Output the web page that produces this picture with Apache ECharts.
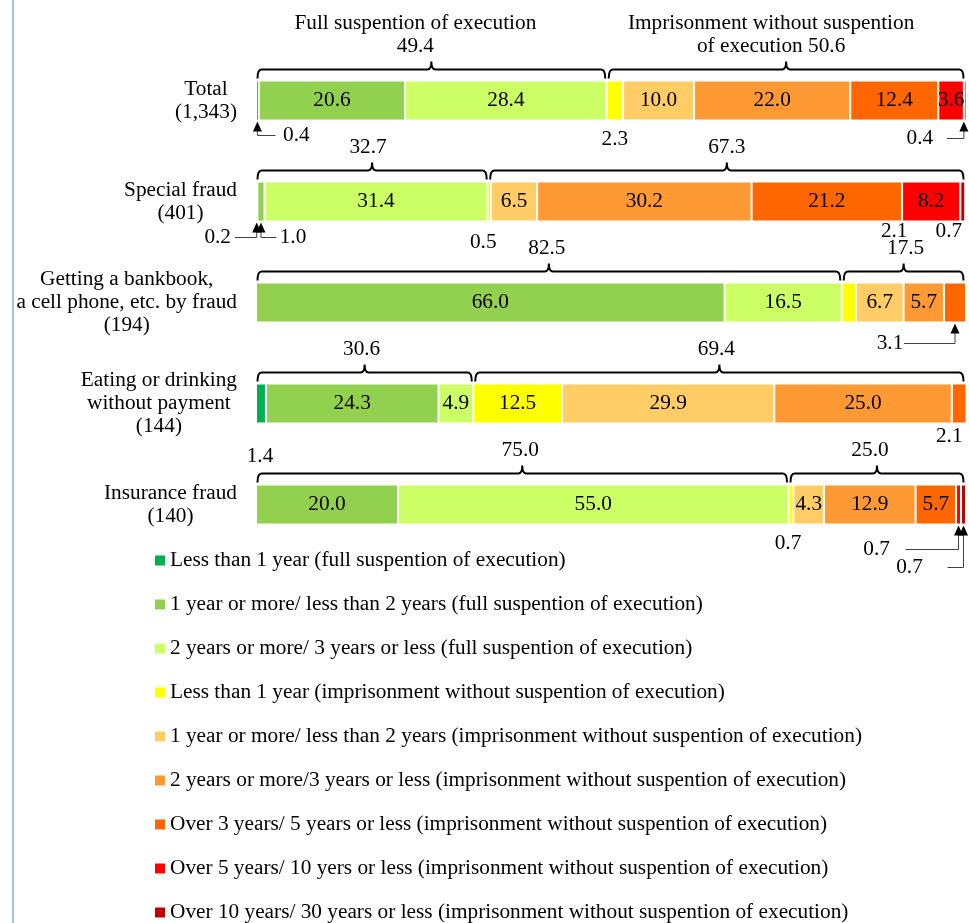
<!DOCTYPE html>
<html><head><meta charset="utf-8">
<script src="https://cdn.jsdelivr.net/npm/echarts@6/dist/echarts.min.js"></script>
<style>html,body{margin:0;padding:0;background:#fff}#c{width:969px;height:923px}</style>
</head><body><div id="c"></div>
<script>
// ---------- data ----------
const categories = [
  'Total\n(1,343)',
  'Special fraud\n(401)',
  'Getting a bankbook,\na cell phone, etc. by fraud\n(194)',
  'Eating or drinking\nwithout payment\n(144)',
  'Insurance fraud\n(140)'
];
const seriesNames = [
  'Less than 1 year (full suspention of execution)',
  '1 year or more/ less than 2 years (full suspention of execution)',
  '2 years or more/ 3 years or less (full suspention of execution)',
  'Less than 1 year (imprisonment without suspention of execution)',
  '1 year or more/ less than 2 years (imprisonment without suspention of execution)',
  '2 years or more/3 years or less (imprisonment without suspention of execution)',
  'Over 3 years/ 5 years or less (imprisonment without suspention of execution)',
  'Over 5 years/ 10 yers or less (imprisonment without suspention of execution)',
  'Over 10 years/ 30 years or less (imprisonment without suspention of execution)'
];
const fullLt1     = [0.4, 0.2, 0,    1.4,  0];
const full1to2    = [20.6, 1.0, 66.0, 24.3, 20.0];
const full2to3    = [28.4, 31.4, 16.5, 4.9, 55.0];
const prisonLt1   = [2.3, 0.5, 2.0, 12.5, 0.7];
const prison1to2  = [10.0, 6.5, 6.7, 29.9, 4.3];
const prison2to3  = [22.0, 30.2, 5.7, 25.0, 12.9];
const prison3to5  = [12.4, 21.2, 3.1, 2.1, 5.7];
const prison5to10 = [3.6, 8.2, 0, 0, 0.7];
const prison10to30= [0.4, 0.7, 0, 0, 0.7];
const fullTotals   = [49.4, 32.7, 82.5, 30.6, 75.0];
const prisonTotals = [50.6, 67.3, 17.5, 69.4, 25.0];
const groupNames = ['Full suspention of execution', 'Imprisonment without suspention\nof execution'];
const strayLabels = ['2.1'];   // extra label printed under the Special fraud bar

const seriesData = [fullLt1, full1to2, full2to3, prisonLt1, prison1to2, prison2to3, prison3to5, prison5to10, prison10to30];

// ---------- style / layout ----------
const colors = ['#00B050','#92D050','#CCFF66','#FFFF00','#FFCC66','#FF9933','#FF6600','#FF0000','#C00000'];
const FONT = '"Liberation Serif", "Times New Roman", serif';
const FS = 21.3;
const BAR_H = 40;
// bracket label x offsets (pixels) per category, [full, prison]
const bracketDx = [[-16, -15], [-4, 0], [-2, 2], [-3, -3], [-2, -7]];
// callouts: category, series index, text offset from segment centre / bar bottom, leader arrow
const callouts = [
  {cat:0, s:0, dx:39, dy:14, arrow:true, gap:21},
  {cat:0, s:3, dx:0, dy:18},
  {cat:0, s:8, dx:-44, dy:17, arrow:true, gap:27},
  {cat:1, s:0, dx:-39, dy:15, arrow:true, gap:17},
  {cat:1, s:1, dx:32, dy:15, arrow:true, gap:17},
  {cat:1, s:3, dx:-6, dy:20},
  {cat:1, s:7, dx:-37, dy:9, text:strayLabels[0]},
  {cat:1, s:8, dx:-14, dy:9},
  {cat:2, s:6, dx:-65, dy:20, arrow:true, gap:14},
  {cat:3, s:6, dx:-10, dy:12},
  {cat:3, s:0, dx:-1, dy:32},
  {cat:4, s:3, dx:-3, dy:18},
  {cat:4, s:7, dx:-82, dy:24, arrow:true, gap:29},
  {cat:4, s:8, dx:-54, dy:42, arrow:true, gap:38}
];

// brackets built from the group totals
const brackets = [];
categories.forEach((c, i) => {
  brackets.push({cat:i, from:0, to:fullTotals[i], dx:bracketDx[i][0],
    text: i === 0 ? groupNames[0] + '\n' + fullTotals[i].toFixed(1) : fullTotals[i].toFixed(1)});
  brackets.push({cat:i, from:fullTotals[i], to:100, dx:bracketDx[i][1], second:true,
    text: i === 0 ? groupNames[1] + ' ' + prisonTotals[i].toFixed(1) : prisonTotals[i].toFixed(1)});
});

function renderBracket(params, api) {
  const b = brackets[params.dataIndex];
  const p0 = api.coord([b.from, b.cat]);
  const p1 = api.coord([b.to, b.cat]);
  const x0 = p0[0] + (b.second ? 2 : 1.5), x1 = p1[0] - (b.second ? 2.5 : 1.5);
  const y = p0[1] - BAR_H / 2 - 11;
  const xc = (x0 + x1) / 2;
  const r = 4, h = 9, t = 8;
  const d = `M${x0} ${y+h} Q${x0} ${y} ${x0+r} ${y} L${xc-r} ${y} Q${xc} ${y} ${xc} ${y-t} Q${xc} ${y} ${xc+r} ${y} L${x1-r} ${y} Q${x1} ${y} ${x1} ${y+h}`;
  return {type:'group', children:[
    {type:'path', shape:{pathData:d, x:x0, y:y-t, width:x1-x0, height:h+t, layout:'cover'},
      style:{fill:null, stroke:'#000', lineWidth:2}},
    {type:'text', x:xc + b.dx, y:y - 12,
      style:{text:b.text, fill:'#000', font:FS + 'px ' + FONT, align:'center', verticalAlign:'bottom', lineHeight:23}}
  ]};
}

function renderCallout(params, api) {
  const c = callouts[params.dataIndex];
  const vals = seriesData.map(a => a[c.cat]);
  let start = 0;
  for (let k = 0; k < c.s; k++) start += vals[k];
  const mid = Math.min(start + vals[c.s] / 2, 99.7);
  const p = api.coord([mid, c.cat]);
  const bottom = p[1] + BAR_H / 2 + 1;
  const tx = p[0] + c.dx, ty = bottom + c.dy;
  const text = c.text != null ? c.text : vals[c.s].toFixed(1);
  const children = [{type:'text', x:tx, y:ty,
    style:{text:text, fill:'#000', font:FS + 'px ' + FONT, align:'center', verticalAlign:'middle'}}];
  if (c.arrow) {
    const ax = p[0];
    const lx = c.dx > 0 ? tx - c.gap : tx + c.gap;
    children.push({type:'polyline', shape:{points:[[lx, ty], [ax, ty], [ax, bottom + 8]]},
      style:{stroke:'#404040', lineWidth:1, fill:null}});
    children.push({type:'polygon', shape:{points:[[ax, bottom], [ax - 4.5, bottom + 10], [ax + 4.5, bottom + 10]]},
      style:{fill:'#000'}});
  }
  return {type:'group', children};
}

const barSeries = seriesNames.map((name, i) => ({
  name, type:'bar', stack:'total', barWidth:BAR_H,
  data: seriesData[i],
  itemStyle:{color:colors[i], borderColor:'#fff', borderWidth:1},
  label:{show:true, position:'inside', color:'#000', fontFamily:FONT, fontSize:FS,
    formatter: p => p.value >= 3.5 ? p.value.toFixed(1) : ''},
  emphasis:{disabled:true}
}));

const chart = echarts.init(document.getElementById('c'));
chart.setOption({
  animation:false,
  backgroundColor:'#fff',
  graphic:[{type:'rect', left:12, top:0, shape:{width:2, height:923}, style:{fill:'#A7BFDE'}}],
  grid:{left:256, right:3, top:50, height:505},
  xAxis:{type:'value', min:0, max:100, show:false},
  yAxis:{type:'category', data:categories, inverse:true,
    axisLine:{show:false}, axisTick:{show:false},
    axisLabel:{margin:19, align:'right',
      formatter: v => v.split('\n').map(l => '{c|' + l + '}').join('\n'),
      rich:{c:{align:'center', fontFamily:FONT, fontSize:FS, lineHeight:23, color:'#000'}}}},
  legend:{orient:'vertical', left:155, top:550, height:373, padding:0,
    itemWidth:10, itemHeight:10, itemGap:23,
    icon:'rect', data:seriesNames, itemStyle:{borderWidth:0},
    textStyle:{fontFamily:FONT, fontSize:FS, lineHeight:21, color:'#000'}},
  series: barSeries.concat([
    {type:'custom', name:'brackets', renderItem:renderBracket, data:brackets.map(b => [b.from, b.cat]), silent:true, z:5},
    {type:'custom', name:'callouts', renderItem:renderCallout, data:callouts.map(c => [0, c.cat]), silent:true, z:5}
  ])
});
</script></body></html>
